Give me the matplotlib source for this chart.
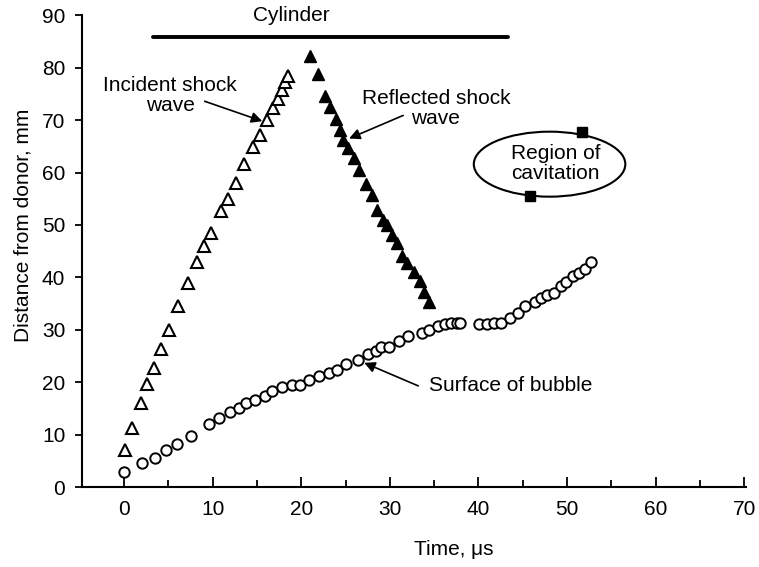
import matplotlib
matplotlib.use("Agg")
import matplotlib.pyplot as plt
from matplotlib.patches import Ellipse

plt.rcParams["font.family"] = ["Liberation Sans", "DejaVu Sans"]
plt.rcParams["font.size"] = 15

# incident shock wave (open triangles)
inc_t = [0.06, 0.9, 1.94, 2.64, 3.33, 4.22, 5.11, 6.1, 7.2, 8.27, 9.06, 9.85,
         10.94, 11.73, 12.62, 13.56, 14.5, 15.29, 16.08, 16.78, 17.42, 17.77,
         18.16, 18.5]
inc_d = [7.1, 11.2, 16.0, 19.6, 22.8, 26.4, 30.0, 34.6, 39.0, 43.0, 45.9, 48.4,
         52.6, 55.0, 58.1, 61.7, 64.9, 67.2, 70.0, 72.4, 74.1, 75.8, 77.2, 78.5]

# reflected shock wave (filled triangles)
ref_t = [20.93, 21.92, 22.71, 23.2, 23.89, 24.39, 24.69, 25.28, 25.92, 26.47,
         27.26, 27.95, 28.54, 29.23, 29.73, 30.22, 30.82, 31.41, 31.9, 32.7,
         33.39, 33.88, 34.43]
ref_d = [82.3, 78.8, 74.7, 72.6, 70.3, 68.2, 66.3, 64.6, 62.7, 60.5, 57.8, 55.8,
         52.9, 51.0, 50.0, 48.1, 46.5, 44.0, 42.8, 41.1, 39.4, 37.3, 35.4]

# surface of bubble (open circles)
bub_t = [0.0, 2.04, 3.53, 4.76, 6.0, 7.58, 9.56, 10.74, 11.93, 12.92, 13.81,
         14.8, 15.88, 16.68, 17.86, 18.95, 19.84, 20.83, 22.02, 23.1, 24.04,
         25.08, 26.37, 27.55, 28.44, 29.04, 29.93, 31.01, 32.1, 33.58, 34.43,
         35.46, 36.25, 36.95, 37.54, 37.94, 40.11, 41.0, 41.79, 42.58, 43.52,
         44.46, 45.2, 46.34, 47.08, 47.72, 48.52, 49.26, 49.9, 50.64, 51.38,
         52.03, 52.67]
bub_d = [2.9, 4.5, 5.6, 7.0, 8.2, 9.75, 12.0, 13.1, 14.4, 15.1, 16.0, 16.7,
         17.4, 18.25, 19.0, 19.4, 19.45, 20.4, 21.2, 21.7, 22.3, 23.4, 24.2,
         25.3, 25.9, 26.7, 26.7, 27.8, 28.8, 29.3, 30.0, 30.7, 31.1, 31.3, 31.3,
         31.3, 31.2, 31.2, 31.3, 31.3, 32.3, 33.2, 34.5, 35.4, 36.1, 36.6, 37.1,
         38.4, 39.2, 40.2, 40.8, 41.6, 42.9]

# region of cavitation
cav_t = [51.68, 45.85]
cav_d = [67.7, 55.6]

cyl_t = [3.23, 43.37]
cyl_d = [85.9, 85.9]

fig = plt.figure(figsize=(7.59, 5.67), dpi=100)
ax = fig.add_axes([0.108, 0.141, 0.875, 0.832])

ax.plot(inc_t, inc_d, ls="none", marker="^", ms=8, mfc="white", mec="black", mew=1.5)
ax.plot(ref_t, ref_d, ls="none", marker="^", ms=8, color="black")
ax.plot(bub_t, bub_d, ls="none", marker="o", ms=7.5, mfc="white", mec="black", mew=1.4)

ax.add_patch(Ellipse((48.02, 61.6), 17.1, 12.4, fill=False, ec="black", lw=1.5))
ax.plot(cav_t, cav_d, ls="none", marker="s", ms=7, color="black")
ax.text(48.7, 61.7, "Region of\ncavitation", ha="center", va="center",
        linespacing=1.05)

ax.plot(cyl_t, cyl_d, color="black", lw=2.8, solid_capstyle="round")
ax.text(18.85, 90, "Cylinder", ha="center", va="center", clip_on=False)

arrow = dict(arrowstyle="-|>", color="black", lw=1.2, mutation_scale=16,
             shrinkA=0, shrinkB=0)
ax.text(5.2, 74.7, "Incident shock\nwave", ha="center", va="center", linespacing=1.05)
ax.annotate("", xy=(15.6, 69.8), xytext=(9.1, 73.6), arrowprops=arrow)
ax.text(35.2, 72.2, "Reflected shock\nwave", ha="center", va="center", linespacing=1.05)
ax.annotate("", xy=(25.4, 66.5), xytext=(31.5, 70.9), arrowprops=arrow)
ax.text(34.4, 19.3, "Surface of bubble", ha="left", va="center")
ax.annotate("", xy=(27.1, 23.7), xytext=(33.2, 19.3), arrowprops=arrow)

ax.set_xlim(-4.75, 70.2)
ax.set_ylim(0, 90)
ax.set_xticks(range(0, 71, 10))
ax.set_xticks(range(5, 70, 10), minor=True)
ax.set_yticks(range(0, 91, 10))

for s in ["top", "right"]:
    ax.spines[s].set_visible(False)
for s in ["left", "bottom"]:
    ax.spines[s].set_linewidth(1.5)

ax.tick_params(axis="x", which="major", direction="in", length=7, width=1.3, pad=9)
ax.tick_params(axis="x", which="minor", direction="in", length=5, width=1.3)
ax.tick_params(axis="y", direction="out", length=5, width=1.3, pad=7)

ax.set_xlabel("Time, μs")
ax.xaxis.set_label_coords(0.56, -0.112)
ax.set_ylabel("Distance from donor, mm")
ax.yaxis.set_label_coords(-0.075, 0.555)

fig.savefig("out.png", dpi=100)
